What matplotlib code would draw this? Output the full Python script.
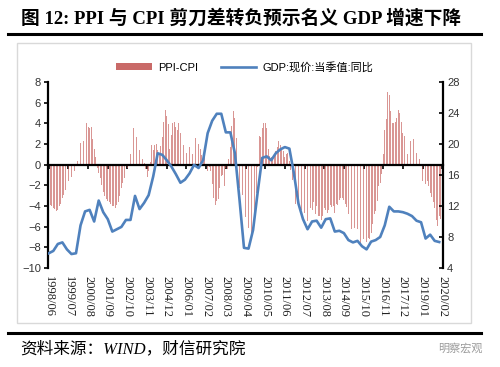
import numpy as np
import matplotlib
matplotlib.use("Agg")
import matplotlib.pyplot as plt
from matplotlib.lines import Line2D
from matplotlib.patches import Patch, Rectangle

plt.rcParams['font.family'] = ['Liberation Sans', 'Noto Sans CJK SC']

# --------------------------------
# DATA
# --------------------------------

# PPI-CPI, monthly, 1998/06 .. 2020/02
ppi_cpi = [
    -3.6, -3.9, -4.0, -4.2, -4.3, -4.5, -4.4,                               # 1998
    -4.0, -3.8, -3.2, -2.9, -2.5, -2.0, -1.6, -1.5, -1.2, -0.9, -0.6, -0.3,  # 1999
    0.4, 1.2, 2.1, 2.9, 2.3, 2.1, 4.0, 3.6, 3.5, 3.6, 2.5, 1.5,              # 2000
    0.7, -0.3, -0.8, -1.3, -2.0, -2.6, -3.0, -3.3, -3.5, -3.6, -3.8, -4.0,   # 2001
    -4.0, -4.2, -3.9, -3.6, -3.0, -2.3, -1.8, -1.3, -0.8, -0.3, 0.3, 1.0,    # 2002
    1.8, 3.5, 3.8, 2.7, 2.0, 1.4, 0.9, 0.5, 0.2, -0.4, -1.2, -0.6,           # 2003
    0.3, 1.9, 1.4, 1.9, 2.0, 1.4, 1.1, 1.8, 2.7, 4.1, 5.3, 4.7,              # 2004
    3.9, 1.5, 2.9, 4.0, 4.1, 3.6, 3.4, 4.0, 3.1, 2.8, 1.9, 1.6,              # 2005
    1.1, 2.1, 1.7, 0.7, 1.0, 2.0, 2.6, 2.1, 2.0, 1.5, 0.9, 0.3,              # 2006
    1.1, -0.1, -0.6, -0.2, -0.6, -1.9, -3.2, -3.9, -3.5, -3.3, -2.3, -1.1,   # 2007
    -1.0, -2.1, -0.3, -0.4, 0.5, 1.7, 3.7, 5.2, 4.5, 2.6, -0.4, -2.3,        # 2008
    -4.3, -2.9, -4.8, -5.1, -5.8, -6.1, -6.4, -6.7, -6.2, -5.3, -2.7, -0.2,  # 2009
    2.8, 2.7, 3.5, 4.0, 4.0, 3.5, 1.5, 0.8, 0.7, 0.6, 1.0, 1.3,              # 2010
    1.7, 2.3, 1.9, 1.5, 1.3, 0.7, 1.0, 1.1, 0.4, -0.5, -1.5, -2.4,           # 2011
    -3.8, -3.2, -3.9, -4.1, -4.4, -4.3, -4.7, -5.5, -5.5, -4.5, -4.2, -4.4,  # 2012
    -3.6, -4.8, -4.0, -5.0, -5.0, -5.4, -5.0, -4.2, -4.4, -4.7, -4.4, -3.9,  # 2013
    -4.1, -4.0, -4.7, -3.8, -3.9, -3.4, -3.2, -3.2, -3.4, -3.8, -4.1, -4.8,  # 2014
    -5.1, -6.2, -6.0, -6.1, -5.8, -6.2, -7.0, -7.9, -7.5, -7.2, -7.4, -7.5,  # 2015
    -7.1, -7.2, -6.6, -5.7, -4.8, -4.5, -3.5, -2.1, -1.8, -0.9, 1.0, 3.4,    # 2016
    4.4, 7.0, 6.7, 5.2, 4.0, 4.0, 4.1, 4.5, 5.3, 5.0, 4.1, 3.1,              # 2017
    2.8, 0.8, 1.0, 1.6, 2.3, 2.8, 2.5, 1.8, 1.1, 0.8, 0.5, -1.0,             # 2018
    -1.6, -1.4, -1.9, -1.6, -2.1, -2.7, -3.1, -3.6, -4.2, -5.4, -5.9, -5.0,  # 2019
    -5.3, -5.6,                                                              # 2020
]

# GDP current price yoy, quarterly, 1998Q2 .. 2019Q4
gdp_yoy = [
    5.9, 6.2, 7.1, 7.3, 6.4, 5.8, 5.9, 9.5, 11.3, 11.5,
    10.0, 12.7, 11.2, 10.3, 8.7, 9.0, 9.3, 10.2, 10.2, 13.3,
    11.6, 12.4, 13.4, 15.8, 18.8, 18.6, 17.9, 17.1, 16.1, 15.0,
    15.4, 16.2, 17.3, 16.9, 17.9, 21.4, 23.0, 23.9, 23.9, 21.5,
    21.5, 18.8, 12.9, 6.6, 6.5, 8.9, 13.7, 18.2, 18.4, 17.9,
    18.8, 19.3, 19.6, 19.4, 16.2, 12.3, 10.3, 9.0, 10.0, 10.1,
    9.2, 10.3, 10.4, 8.7, 8.8, 8.5, 7.6, 7.3, 7.5, 6.8,
    6.4, 7.4, 7.6, 8.0, 9.5, 11.9, 11.3, 11.3, 11.2, 11.0,
    10.7, 10.1, 9.9, 7.8, 8.3, 7.5, 7.35,
]

tick_labels = [
    "1998/06", "1999/07", "2000/08", "2001/09", "2002/10", "2003/11",
    "2004/12", "2006/01", "2007/02", "2008/03", "2009/04", "2010/05",
    "2011/06", "2012/07", "2013/08", "2014/09", "2015/10", "2016/11",
    "2017/12", "2019/01", "2020/02",
]

# --------------------------------
# FIGURE
# --------------------------------

fig = plt.figure(figsize=(5, 3.67), dpi=100)

ax = fig.add_axes([0.096, 0.2698, 0.79, 0.5068])

months = np.arange(len(ppi_cpi))

ax.bar(
    months,
    ppi_cpi,
    width=0.55,
    color="#c0504d",
    alpha=0.6,
    linewidth=0,
    zorder=2
)

ax.set_xlim(-0.5, len(ppi_cpi) - 0.5)
ax.set_ylim(-10, 8)
ax.set_yticks(np.arange(-10, 9, 2))

ax.spines["top"].set_visible(False)
ax.spines["right"].set_visible(False)
ax.spines["bottom"].set_position(("data", 0))
ax.spines["bottom"].set_linewidth(1.6)
ax.spines["left"].set_linewidth(1.6)

ax.set_xticks(np.arange(0, len(ppi_cpi), 13))
ax.set_xticklabels(
    tick_labels,
    rotation=-90,
    fontfamily="Liberation Serif",
    fontsize=9,
    color="#222222"
)
ax.tick_params(axis="x", direction="out", length=3, width=1.2, pad=77)
ax.tick_params(axis="y", direction="out", length=3, width=1.2,
               labelsize=8, labelcolor="#333333", pad=2)

# GDP line on right axis
ax2 = ax.twinx()

ax2.plot(
    np.arange(len(gdp_yoy)) * 3,
    gdp_yoy,
    color="#4f81bd",
    linewidth=1.9,
    zorder=3
)

ax2.set_ylim(4, 28)
ax2.set_yticks(np.arange(4, 29, 4))

for side in ["top", "bottom", "left"]:
    ax2.spines[side].set_visible(False)

ax2.spines["right"].set_linewidth(1.6)
ax2.tick_params(axis="y", direction="in", length=3, width=1.2,
                labelsize=8, labelcolor="#333333", pad=3)

# --------------------------------
# LEGEND
# --------------------------------

handles = [
    Patch(facecolor="#c0504d", alpha=0.85, edgecolor="none"),
    Line2D([0], [0], color="#4f81bd", linewidth=1.9),
]

fig.legend(
    handles,
    ["PPI-CPI", "GDP:现价:当季值:同比"],
    loc="center",
    bbox_to_anchor=(0.49, 0.817),
    ncol=2,
    frameon=False,
    fontsize=8,
    handlelength=3.2,
    handleheight=0.6,
    columnspacing=2.0,
    handletextpad=0.6
)

# --------------------------------
# DECORATION
# --------------------------------

fig.patches.append(
    Rectangle(
        (17 / 500, 1 - 323 / 367),
        454 / 500,
        280 / 367,
        transform=fig.transFigure,
        fill=False,
        edgecolor="#d9d9d9",
        linewidth=1
    )
)

fig.text(
    21 / 500,
    1 - 18 / 367,
    "图 12: PPI 与 CPI 剪刀差转负预示名义 GDP 增速下降",
    ha="left",
    va="center",
    fontsize=13.5,
    fontweight="bold",
    family=["Liberation Serif", "Noto Sans CJK SC"]
)

for y in [34, 333]:
    fig.add_artist(
        Line2D([8 / 500, 481 / 500], [1 - y / 367, 1 - y / 367],
               color="black", linewidth=2.2)
    )

fig.text(
    20 / 500,
    1 - 349 / 367,
    "资料来源：WIND，财信研究院",
    ha="left",
    va="center",
    fontsize=12,
    style="italic",
    family=["Liberation Serif", "Noto Sans CJK SC"]
)

fig.text(
    483 / 500,
    1 - 348 / 367,
    "明察宏观",
    ha="right",
    va="center",
    fontsize=8,
    color="#9a9a9a",
    family=["Noto Sans CJK SC"]
)

fig.savefig("out.png", dpi=100, facecolor="white")
